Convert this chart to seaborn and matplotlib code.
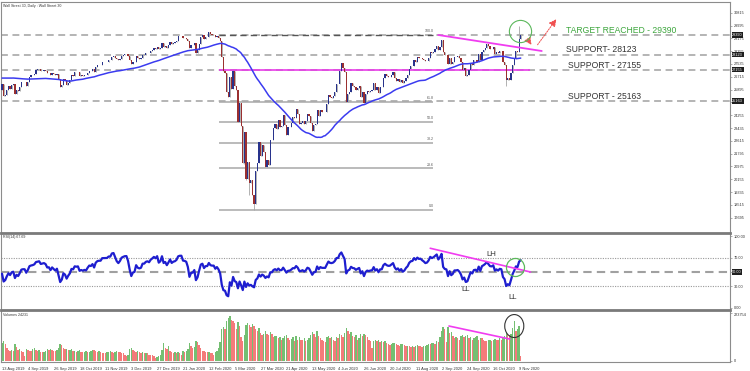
import numpy as np
import pandas as pd
import matplotlib
matplotlib.use("Agg")
import matplotlib.pyplot as plt
import matplotlib.transforms as mtransforms
from matplotlib.patches import Ellipse
import seaborn as sns

# ---- data (daily Wall Street 30) ----
# closes before the first visible bar, only used to warm up MA(50) and RSI(14)
warmup_closes = [
    24820, 25332, 25540, 25720, 25984, 26062, 26048, 25915, 26107, 26090,
    26112, 26466, 26504, 26753, 26719, 26727, 26548, 26537, 26526, 26600,
    26717, 26787, 26966, 26970, 26922, 26806, 26784, 26860, 27088, 27332,
    27359, 27336, 27219, 27223, 27154, 27172, 27350, 27270, 27140, 27192,
    27221, 27198, 26864, 26583, 26485, 25718, 26030, 26008, 26379, 26287,
    25897,
]

closes = [
    # Aug 2019
    26280, 25479, 25579, 25886, 26136, 25962, 26202, 26252, 25629, 25899, 25778, 26036, 26362, 26403,
    # Sep 2019
    26400, 26118, 26355, 26728, 26797, 26835, 26909, 27137, 27182, 27220, 27076, 27110, 27147, 27095,
    26935, 26950, 26808, 26970, 26891, 26820, 26917,
    # Oct 2019
    26573, 26078, 26201, 26573, 26478, 26165, 26347, 26497, 26817, 26787, 27024, 27002, 27026, 26770,
    26827, 26788, 26834, 26806, 26958, 27091, 27071, 27186, 27046,
    # Nov 2019
    27347, 27462, 27492, 27493, 27675, 27681, 27691, 27691, 27784, 27782, 28005, 28036, 27934, 27822,
    27766, 27876, 28066, 28122, 28164, 28170, 28051,
    # Dec 2019
    27783, 27503, 27650, 27678, 28015, 27910, 27881, 27912, 28132, 28135, 28235, 28267, 28239, 28377,
    28455, 28551, 28515, 28645, 28462, 28538,
    # Jan 2020
    28868, 28634, 28703, 28583, 28745, 28957, 28823, 28907, 28940, 29030, 29297, 29348, 29350, 29196,
    29186, 29160, 28990, 28535, 28723, 28734, 28860, 28256,
    # Feb 2020
    28399, 28808, 29291, 29380, 29103, 29276, 29277, 29551, 29424, 29398, 29400, 29232, 29348, 29220,
    28992, 27961, 27081, 26958, 25766, 25409,
    # Mar 2020
    26703, 25917, 27091, 26121, 25865, 23851, 25018, 23553, 21200, 23185, 20189, 21237, 19899, 20087,
    19174, 18592, 20705, 21200, 22552, 21637, 22327, 21917,
    # Apr 2020
    20943, 21413, 21053, 22680, 22654, 23434, 23719, 23390, 23950, 23505, 23538, 24242, 23650, 23019,
    23475, 23516, 23775, 24134, 24102, 24634, 24346,
    # May 2020
    23724, 23750, 23883, 23664, 23875, 24331, 24222, 23764, 23248, 23625, 23685, 24597, 24207, 24576,
    24474, 24465, 24470, 24995, 25548, 25401, 25383,
    # Jun 2020
    25475, 25742, 26270, 26282, 27111, 27572, 27272, 26990, 25128, 25606, 25763, 26290, 26120, 26080,
    25871, 26025, 26156, 25446, 25745, 25016, 25596, 25813,
    # Jul 2020
    25735, 25827, 25850, 26287, 25890, 26067, 25706, 26075, 26086, 26643, 26870, 26735, 26672, 26681,
    26840, 27006, 26653, 26470, 26585, 26380, 26540, 26314, 26428,
    # Aug 2020
    26665, 26828, 27202, 27387, 27433, 27791, 27687, 27977, 27897, 27931, 27845, 27779, 27693, 27740,
    27930, 28308, 28249, 28332, 28493, 28654, 28430,
    # Sep 2020
    28646, 29100, 28292, 28133, 28100, 27501, 27940, 27535, 27666, 27993, 27996, 28032, 27902, 27657,
    27148, 27289, 26763, 26816, 27174, 27584, 27453, 27782,
    # Oct 2020
    27817, 27683, 28149, 27773, 28303, 28426, 28587, 28838, 28680, 28514, 28494, 28606, 28195, 28309,
    28211, 28364, 28336, 27685, 27464, 26520, 26660, 26502,
    # Nov 2020
    26925, 27480, 27847, 28390, 28323, 29158, 29420,
]

# tick volume in thousands
volumes_k = [
    84, 95, 78, 62, 50, 48, 52, 45, 80, 66, 52, 55, 48, 40,
    25, 55, 50, 48, 45, 55, 60, 52, 48, 50, 44, 40, 42, 48, 55, 50, 58, 52, 47, 45, 50,
    60, 80, 76, 62, 55, 58, 50, 52, 58, 46, 48, 44, 45, 50, 42, 40, 43, 46, 40, 42, 48, 52, 50,
    48, 42, 45, 40, 38, 36, 35, 40, 42, 45, 40, 38, 42, 45, 44, 40, 38, 35, 30, 22, 28,
    55, 60, 52, 45, 42, 46, 40, 38, 40, 36, 38, 35, 30, 28, 26, 22, 15, 18, 24, 30,
    50, 82, 62, 55, 70, 48, 40, 38, 40, 38, 42, 36, 30, 45, 40, 48, 55, 85, 70, 60, 65, 92,
    88, 75, 62, 48, 45, 42, 40, 44, 38, 35, 30, 40, 45, 60, 90, 150, 160, 150, 185, 200,
    210, 190, 185, 175, 150, 182, 165, 110, 95, 120, 170, 175, 168, 160, 172, 165, 150, 140, 155, 130, 120, 125,
    140, 128, 120, 135, 125, 110, 115, 118, 105, 112, 100, 108, 115, 120, 105, 98, 102, 110, 95, 118, 100,
    112, 100, 98, 105, 95, 100, 108, 120, 135, 128, 110, 140, 115, 108, 100, 95, 90, 110, 118, 105, 112,
    100, 95, 110, 105, 125, 120, 110, 130, 155, 140, 128, 135, 115, 110, 120, 100, 105, 125, 115, 128, 120, 110,
    100, 95, 60, 92, 98, 95, 100, 90, 95, 88, 92, 85, 80, 75, 78, 82, 85, 80, 76, 72, 78, 80, 75,
    70, 72, 68, 65, 70, 66, 72, 75, 70, 68, 65, 70, 72, 75, 80, 78, 82, 85, 80, 95, 90,
    110, 140, 160, 150, 90, 158, 130, 135, 115, 105, 110, 108, 100, 115, 120, 112, 118, 122, 108, 110, 100, 105,
    112, 118, 100, 108, 105, 98, 95, 92, 96, 100, 95, 98, 102, 100, 96, 105, 100, 108, 118, 130, 125, 120,
    125, 155, 185, 140, 150, 165, 24.231,
]

# intraday extremes that stick out of the bodies
wick_highs = {128: 29568, 320: 29933}
wick_lows = {150: 21154, 151: 20116, 153: 19122, 156: 18213, 312: 26143}

date_labels = [
    "13 Aug 2019", "4 Sep 2019", "26 Sep 2019", "18 Oct 2019", "11 Nov 2019", "3 Dec 2019",
    "27 Dec 2019", "21 Jan 2020", "12 Feb 2020", "5 Mar 2020", "27 Mar 2020", "21 Apr 2020",
    "13 May 2020", "4 Jun 2020", "26 Jun 2020", "20 Jul 2020", "11 Aug 2020", "2 Sep 2020",
    "24 Sep 2020", "16 Oct 2020", "9 Nov 2020",
]
label_step = 16

support_levels = [29390, 28123, 27155, 25163]
support_texts = ["TARGET REACHED - 29390", "SUPPORT- 28123", "SUPPORT - 27155", "SUPPORT - 25163"]
fib_low, fib_high = 18213, 29390
fib_ratios = [0.0, 23.6, 38.2, 50.0, 61.8, 100.0]
fib_start, fib_end = 134, 267

price_ticks = [17695 + 820 * k for k in range(17)]
rsi_levels = [0, 30, 50, 70, 100]
vol_top = 223754

# analyst drawings (bar index, value)
price_trend = ([270, 334], [29388, 28364])
rsi_trend = ([265, 327], [83, 50])
vol_trend = ([276.6, 314.4], [163000, 102000])

# ---- indicators ----
n_warm = len(warmup_closes)
all_close = pd.Series(warmup_closes + closes, dtype=float)
ma50 = all_close.rolling(50, min_periods=1).mean().iloc[n_warm:].to_numpy()
delta = all_close.diff()
gain = delta.clip(lower=0).ewm(alpha=1 / 14, adjust=False).mean()
loss = (-delta.clip(upper=0)).ewm(alpha=1 / 14, adjust=False).mean()
rsi = (100 - 100 / (1 + gain / loss)).iloc[n_warm:].to_numpy()

x = np.arange(len(closes))
c = np.array(closes, dtype=float)
o = all_close.shift(1).iloc[n_warm:].to_numpy()
hi = np.maximum(o, c)
lo = np.minimum(o, c)
for k, v in wick_highs.items():
    hi[k] = max(hi[k], v)
for k, v in wick_lows.items():
    lo[k] = min(lo[k], v)
up = c >= o

vol = np.array(volumes_k) * 1000
vol_up = np.r_[True, vol[1:] > vol[:-1]]

df = pd.DataFrame({"bar": x, "close": c, "ma": ma50, "rsi": rsi, "volume": vol})

# ---- figure ----
sns.set_theme(style="white")
plt.rcParams["font.family"] = ["Liberation Sans", "DejaVu Sans"]

W, H = 750, 371
fig = plt.figure(figsize=(7.5, 3.71), dpi=100)


def px_axes(top, bottom, left=1, right=730):
    return fig.add_axes([left / W, (H - bottom) / H, (right - left) / W, (bottom - top) / H])


ax_p = px_axes(2, 233)
ax_r = px_axes(233, 310)
ax_v = px_axes(310, 362)

xlim = (-0.62, 450.5)
grey_dash = dict(color="#a0a0a0", lw=1.1, dashes=(4.5, 3))
small = 2.8

for ax in (ax_p, ax_r, ax_v):
    ax.set_xlim(*xlim)
    ax.set_facecolor("white")
    for s in ax.spines.values():
        s.set_color("#8c8c8c")
        s.set_linewidth(0.8)
    ax.yaxis.tick_right()
    ax.tick_params(axis="y", labelsize=small, length=1.5, width=0.5, pad=1.5, colors="#8c8c8c",
                   labelcolor="#333333")
    ax.set_xlabel("")
    ax.set_ylabel("")
ax_r.spines["top"].set_linewidth(2)
ax_r.spines["top"].set_color("#7a7a7a")
ax_v.spines["top"].set_linewidth(2)
ax_v.spines["top"].set_color("#7a7a7a")

box_tf_p = mtransforms.blended_transform_factory(ax_p.transAxes, ax_p.transData)
box_tf_r = mtransforms.blended_transform_factory(ax_r.transAxes, ax_r.transData)
box_style = dict(boxstyle="square,pad=0.15", fc="#1e1e1e", ec="none")

# price panel
ax_p.set_ylim(16716, 31500)
ax_p.set_yticks(price_ticks)
# a tick label sitting right under a highlighted level box is hidden, as on the terminal
ax_p.set_yticklabels(["" if min(abs(t - s) for s in support_levels) < 150 else str(t)
                      for t in price_ticks])
ax_p.set_xticks([])

for lvl in support_levels:
    ax_p.axhline(lvl, zorder=1, **grey_dash)

fib_range = fib_high - fib_low
for r in fib_ratios:
    lvl = fib_low + r / 100 * fib_range
    if r == 100.0:
        ax_p.hlines(lvl, fib_start, fib_end, color="#555555", lw=1.0, linestyles=(0, (4.5, 3)), zorder=1.5)
    else:
        ax_p.hlines(lvl, fib_start, fib_end, color="#a8a8a8", lw=1.1, zorder=1.2)
    ax_p.text(fib_end, lvl + 120, f"{r:.1f}", fontsize=2.6, color="#555555", ha="right", va="bottom")

ax_p.hlines(27155, fib_start, 327, color="#e83ce8", lw=1.2, zorder=2.5)

ax_p.vlines(x, lo, hi, color="#a5a5a5", lw=0.6, zorder=2)
ax_p.bar(x[up], (c - o)[up], bottom=o[up], width=0.75, color="#28338c", lw=0, zorder=3)
ax_p.bar(x[~up], (o - c)[~up], bottom=c[~up], width=0.75, color="#9b3030", lw=0, zorder=3)
sns.lineplot(data=df, x="bar", y="ma", ax=ax_p, color="#3b3bf0", lw=1.1, zorder=4)
ax_p.set_xlabel("")
ax_p.set_ylabel("")

ax_p.plot(price_trend[0], price_trend[1], color="#f03cf0", lw=1.3, zorder=5)
ax_p.plot([320.5], [29644], marker="o", ms=16, mfc="none", mec="#5cb85c", mew=0.8, zorder=6)
arrow = dict(arrowstyle="-|>,head_length=0.35,head_width=0.18", color="#f05050", lw=0.7, ls=(0, (1.5, 1.2)))
ax_p.annotate("", xy=(328.6, 28620), xytext=(324.3, 29260), arrowprops=arrow)
ax_p.annotate("", xy=(344, 30540), xytext=(330.4, 28620), arrowprops=arrow)

text_y = [29708, 28492, 27468, 25483]
text_x = [349, 349, 350, 350]
for t, tx, ty in zip(support_texts, text_x, text_y):
    col = "#3da63d" if t.startswith("TARGET") else "#333333"
    ax_p.text(tx, ty, t, fontsize=6.2, color=col, va="center", ha="left")

for lvl in support_levels:
    ax_p.text(1.003, lvl, str(lvl), transform=box_tf_p, fontsize=small, color="white", va="center",
              ha="left", bbox=box_style, clip_on=False)

ax_p.text(0.003, 0.99, "Wall Street 30, Daily : Wall Street 30", transform=ax_p.transAxes,
          fontsize=2.6, color="#333333", va="top", ha="left")

# RSI panel
ax_r.set_ylim(-2.8, 104.2)
ax_r.set_yticks(rsi_levels)
ax_r.set_yticklabels([f"{v:.2f}" if v != 50 else "" for v in rsi_levels])
ax_r.set_xticks([])
ax_r.axhline(70, color="#999999", lw=0.8, ls=(0, (1, 1.2)), zorder=1)
ax_r.axhline(30, color="#999999", lw=0.8, ls=(0, (1, 1.2)), zorder=1)
ax_r.axhline(50, color="#a0a0a0", lw=1.5, dashes=(4, 2.5), zorder=1)
sns.lineplot(data=df, x="bar", y="rsi", ax=ax_r, color="#1e1ecf", lw=1.6, zorder=3)
ax_r.set_xlabel("")
ax_r.set_ylabel("")
ax_r.plot(rsi_trend[0], rsi_trend[1], color="#f03cf0", lw=1.2, zorder=4)
ax_r.plot([317.5], [57], marker="o", ms=13, mfc="none", mec="#5cb85c", mew=0.9, zorder=5)
ax_r.text(303, 75, "LH", fontsize=5.6, color="#333333", ha="center", va="center")
ax_r.text(287, 26, "LL", fontsize=5.6, color="#333333", ha="center", va="center")
ax_r.text(316, 14, "LL", fontsize=5.6, color="#333333", ha="center", va="center")
ax_r.text(1.003, 50, "50.00", transform=box_tf_r, fontsize=small, color="white", va="center", ha="left",
          bbox=box_style, clip_on=False)
ax_r.text(0.003, 0.97, "RSI(14) 67.69", transform=ax_r.transAxes, fontsize=2.6, color="#333333",
          va="top", ha="left")

# volume panel
ax_v.set_ylim(-4661, 237737)
ax_v.set_yticks([0, vol_top])
ax_v.set_yticklabels(["0", str(vol_top)])
for lab in ax_v.get_yticklabels():
    lab.set_verticalalignment("top" if lab.get_text() == str(vol_top) else "center")
ax_v.bar(x[vol_up], vol[vol_up], width=0.85, color="#74bf72", lw=0)
ax_v.bar(x[~vol_up], vol[~vol_up], width=0.85, color="#f47a7a", lw=0)
ax_v.plot(vol_trend[0], vol_trend[1], color="#f03cf0", lw=1.2, zorder=4)
ax_v.add_patch(Ellipse((317, 163000), 11.8, 107000, fill=False, ec="#333333", lw=0.8, zorder=5))
ax_v.text(0.003, 0.95, "Volumes 24231", transform=ax_v.transAxes, fontsize=2.6, color="#333333",
          va="top", ha="left")
ax_v.set_xticks(np.arange(len(date_labels)) * label_step)
ax_v.set_xticklabels(date_labels, fontsize=2.9, ha="left", color="#333333")
ax_v.tick_params(axis="x", length=2, width=0.5, pad=1.5, colors="#8c8c8c", labelcolor="#333333")

fig.savefig("out.png", dpi=100)
